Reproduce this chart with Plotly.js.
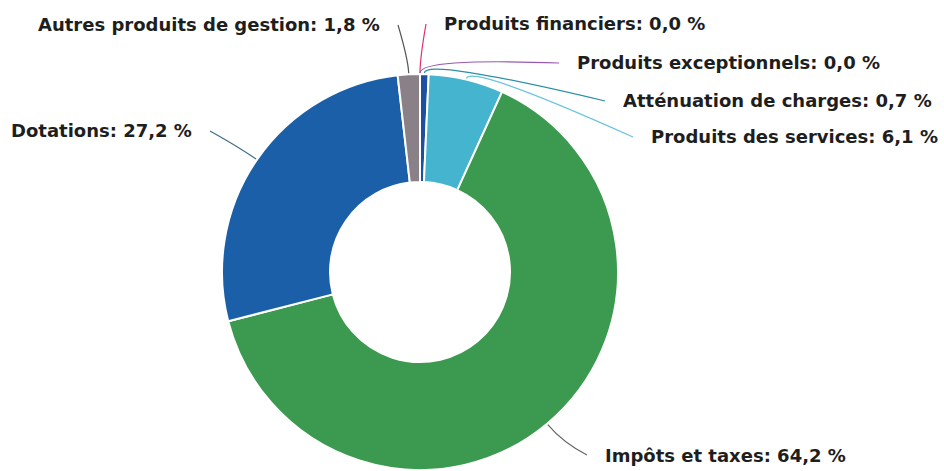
<!DOCTYPE html>
<html>
<head>
<meta charset="utf-8">
<script src="https://cdn.plot.ly/plotly-3.0.1.min.js"></script>
<style>html,body{margin:0;padding:0;background:#fff;}#chart{width:944px;height:471px;}</style>
</head>
<body>
<div id="chart"></div>
<script>
// ---- data ----
const categories = ["Produits financiers", "Produits exceptionnels", "Atténuation de charges", "Produits des services", "Impôts et taxes", "Dotations", "Autres produits de gestion"];
const shares = [0.0, 0.0, 0.7, 6.1, 64.2, 27.2, 1.8];

// ---- styles / layout ----
const sliceColors = ["#e0306a", "#9a5aa8", "#1f4f9f", "#45b5cf", "#3b9a4f", "#1a5fa8", "#8a8088"];
const lineColors  = ["#e0306a", "#9a5aa8", "#2a8fa8", "#6cc4da", "#666666", "#3d6d8d", "#555555"];
// label anchor positions in pixels: [x, y, side]
const labelPos = [
  [442, 24, "left"],
  [575, 63, "left"],
  [621, 101, "left"],
  [649, 137, "left"],
  [603, 455, "left"],
  [194, 131, "right"],
  [382, 25, "right"]
];
const W = 944, H = 471;
const cx = 420, cy = 272, R = 198;
const px = x => x / W, py = y => 1 - y / H;

const total = shares.reduce((a, b) => a + b, 0);
let cum = 0;
const shapes = [], annotations = [];
shares.forEach((v, i) => {
  const mid = (cum + v / 2) / total * 2 * Math.PI;
  cum += v;
  const s = Math.sin(mid), c = Math.cos(mid);
  const sx = cx + (R + 1) * s, sy = cy - (R + 1) * c;
  const bend = (i <= 3 || i === 6) ? 16 : 24;
  const qx = cx + (R + bend) * s, qy = cy - (R + bend) * c;
  const [lx, ly, side] = labelPos[i];
  const ex = side === "left" ? lx - 16 : lx + 16;
  const ey = ly;
  shapes.push({
    type: "path", xref: "paper", yref: "paper",
    path: `M ${px(sx)} ${py(sy)} Q ${px(qx)} ${py(qy)} ${px(ex)} ${py(ey)}`,
    line: {color: lineColors[i], width: 1.2}
  });
  annotations.push({
    xref: "paper", yref: "paper", x: px(lx), y: py(ly),
    xanchor: side, yanchor: "middle", showarrow: false,
    text: categories[i] + ": " + v.toFixed(1).replace(".", ",") + " %",
    font: {family: "DejaVu Sans", size: 18, weight: "bold", color: "#1e1e1e"}
  });
});

const trace = {
  type: "pie",
  labels: categories,
  values: shares,
  sort: false,
  direction: "clockwise",
  rotation: 0,
  hole: 90 / 198,
  textinfo: "none",
  hoverinfo: "label+percent",
  marker: {colors: sliceColors, line: {color: "#ffffff", width: 2}},
  domain: {x: [px(cx - R), px(cx + R)], y: [py(cy + R), py(cy - R)]},
  showlegend: false
};

Plotly.newPlot("chart", [trace], {
  width: W, height: H,
  margin: {l: 0, r: 0, t: 0, b: 0},
  paper_bgcolor: "#ffffff",
  showlegend: false,
  shapes: shapes,
  annotations: annotations
}, {displayModeBar: false, staticPlot: true});
</script>
</body>
</html>
